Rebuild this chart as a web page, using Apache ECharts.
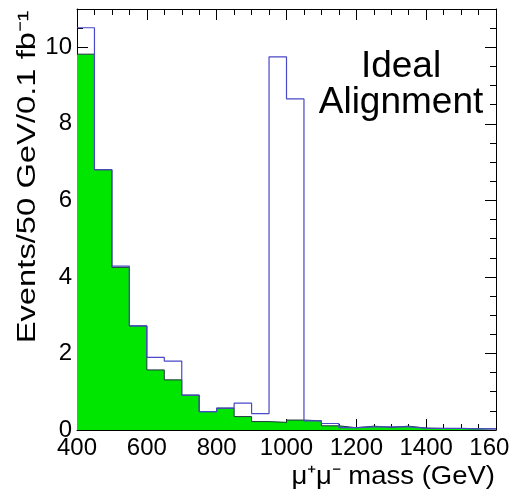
<!DOCTYPE html>
<html>
<head>
<meta charset="utf-8">
<script src="https://cdn.jsdelivr.net/npm/echarts@6/dist/echarts.min.js"></script>
<style>
  html, body { margin: 0; padding: 0; background: #fff; }
  #chart { width: 509px; height: 491px; }
</style>
</head>
<body>
<div id="chart"></div>
<script>
// left edges of the 50 GeV bins
const binStarts = [400, 450, 500, 550, 600, 650, 700, 750, 800, 850, 900, 950,
  1000, 1050, 1100, 1150, 1200, 1250, 1300, 1350, 1400, 1450, 1500, 1550];
const binEnd = 1600;

// filled green histogram
const background = [9.82, 6.8, 4.25, 2.72, 1.57, 1.31, 0.91, 0.48, 0.57, 0.35, 0.22, 0.20,
  0.26, 0.24, 0.11, 0.06, 0.10, 0.07, 0.10, 0.05, 0.04, 0.04, 0.03, 0.03];
// blue outline histogram (with the 1 TeV peak)
const withSignal = [10.51, 6.8, 4.28, 2.72, 1.90, 1.80, 0.91, 0.48, 0.57, 0.70, 0.43, 9.75,
  8.65, 0.24, 0.17, 0.06, 0.08, 0.08, 0.08, 0.05, 0.04, 0.04, 0.03, 0.03];

const xTicks = [400, 600, 800, 1000, 1200, 1400, 1600];
const labelLines = ["Ideal", "Alignment"];
const xTitle = "\u03bc\u207a\u03bc\u207b mass (GeV)";
const yTitle = "Events/50 GeV/0.1 fb\u207b\u00b9";

(function () {
  const chart = echarts.init(document.getElementById("chart"));
  const font = "'Liberation Sans', Arial, Helvetica, sans-serif";

  // step 'end' needs a closing point at the right edge
  function toSteps(values) {
    const pts = binStarts.map((x, i) => [x, values[i]]);
    pts.push([binEnd, values[values.length - 1]]);
    return pts;
  }

  const box = { left: 77, top: 9, right: 13, bottom: 61, containLabel: false, outerBoundsMode: "none" };

  function xAxisDef(pos, labels) {
    return {
      type: "value", position: pos, min: xTicks[0], max: xTicks[xTicks.length - 1], interval: 200,
      axisLine: { show: true, onZero: false, lineStyle: { color: "#000", width: 1 } },
      axisTick: { show: true, inside: true, length: 11, lineStyle: { color: "#000" } },
      minorTick: { show: true, splitNumber: 4, length: 6, lineStyle: { color: "#000" } },
      splitLine: { show: false },
      axisLabel: {
        show: labels, color: "#000", fontSize: 24, fontFamily: font, margin: 6,
        formatter: (v) => String(v)
      }
    };
  }

  function yAxisDef(pos, interval, len, labels) {
    return {
      type: "value", position: pos, min: 0, max: 11, interval: interval,
      axisLine: { show: labels !== null, onZero: false, lineStyle: { color: "#000", width: 1 } },
      axisTick: { show: true, inside: true, length: len, lineStyle: { color: "#000" } },
      splitLine: { show: false },
      axisLabel: {
        show: !!labels, color: "#000", fontSize: 24, fontFamily: font, margin: 5,
        showMaxLabel: false
      }
    };
  }

  const option = {
    animation: false,
    backgroundColor: "#fff",
    grid: box,
    xAxis: [xAxisDef("bottom", true), xAxisDef("top", false)],
    yAxis: [
      yAxisDef("left", 2, 11, true),
      yAxisDef("left", 0.5, 6, null),
      yAxisDef("right", 2, 11, false),
      yAxisDef("right", 0.5, 6, null)
    ],
    series: [
      {
        name: "background",
        type: "line",
        step: "end",
        symbol: "none",
        data: toSteps(background),
        lineStyle: { color: "#1f3540", width: 1 },
        areaStyle: { color: "#00e600", opacity: 1 },
        z: 2
      },
      {
        name: "signal",
        type: "line",
        step: "end",
        symbol: "none",
        data: toSteps(withSignal),
        lineStyle: { color: "#4848c8", width: 1.2 },
        z: 3
      }
    ],
    graphic: [
      {
        type: "text", x: 401, y: 67,
        style: { text: labelLines[0], font: "37px " + font, fill: "#000", align: "center", verticalAlign: "middle" }
      },
      {
        type: "text", x: 401, y: 103,
        style: { text: labelLines[1], font: "37px " + font, fill: "#000", align: "center", verticalAlign: "middle" }
      },
      {
        type: "text", x: 495, y: 477, scaleX: 1.1,
        style: { text: xTitle, font: "25px " + font, fill: "#000", align: "right", verticalAlign: "middle" }
      },
      {
        type: "text", x: 28, y: 177, rotation: Math.PI / 2, scaleX: 1.31,
        style: { text: yTitle, font: "25px " + font, fill: "#000", align: "center", verticalAlign: "middle" }
      }
    ]
  };
  chart.setOption(option);

  window.addEventListener("resize", () => {
    chart.resize();
  });
})();
</script>
</body>
</html>
